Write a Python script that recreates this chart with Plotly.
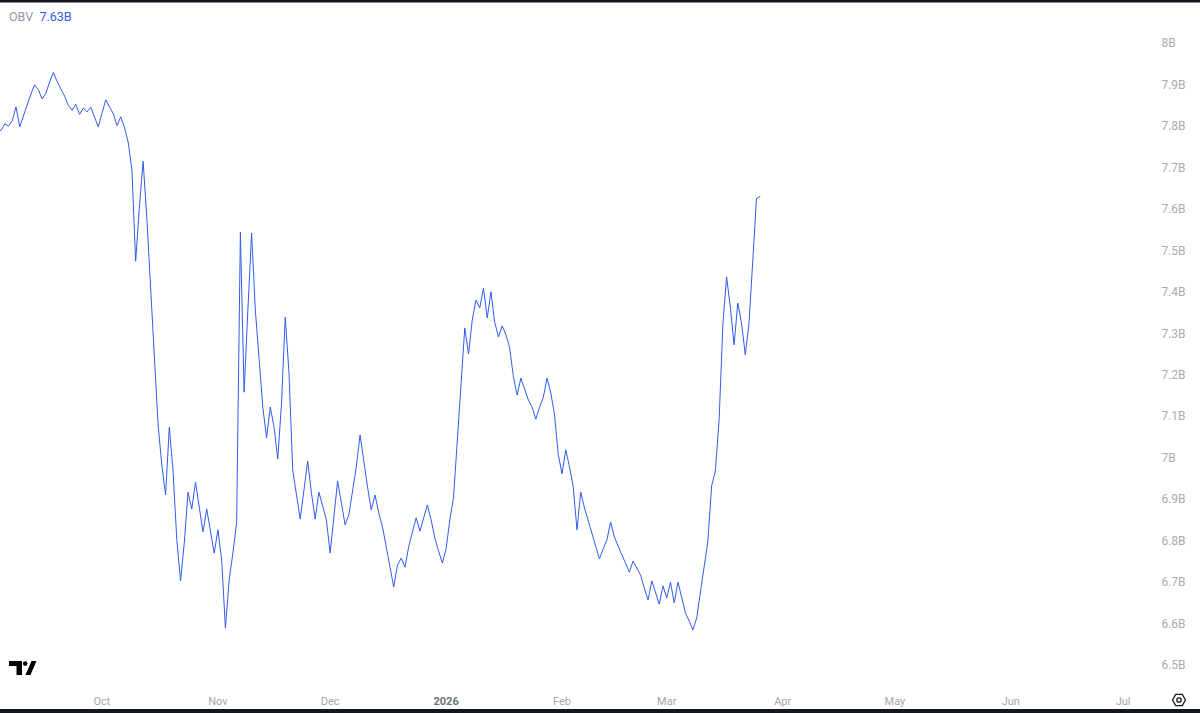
import pandas as pd
import plotly.graph_objects as go

# daily OBV values (billions), Sep 3 2025 -> Mar 26 2026
sep_obv = [7.793, 7.789, 7.805, 7.800, 7.812, 7.846, 7.798, 7.826, 7.853, 7.877,
           7.899, 7.887, 7.865, 7.879, 7.906, 7.929, 7.907, 7.891, 7.872, 7.850,
           7.838, 7.852, 7.828, 7.843, 7.834, 7.845, 7.822, 7.798]
oct_obv = [7.831, 7.863, 7.846, 7.830, 7.801, 7.822, 7.797, 7.761, 7.694, 7.474,
           7.605, 7.715, 7.576, 7.412, 7.216, 7.079, 6.982, 6.910, 7.074, 6.968,
           6.802, 6.703, 6.794, 6.917, 6.876, 6.941, 6.881, 6.821, 6.876, 6.823,
           6.770]
nov_obv = [6.826, 6.753, 6.589, 6.705, 6.770, 6.843, 7.544, 7.158, 7.356, 7.542,
           7.356, 7.236, 7.122, 7.048, 7.122, 7.074, 6.997, 7.132, 7.339, 7.204,
           6.970, 6.910, 6.852, 6.922, 6.992, 6.915, 6.852, 6.917, 6.886, 6.850]
dec_obv = [6.770, 6.857, 6.944, 6.891, 6.838, 6.862, 6.922, 6.978, 7.055, 6.987,
           6.929, 6.874, 6.910, 6.867, 6.833, 6.785, 6.736, 6.688, 6.741, 6.758,
           6.736, 6.785, 6.821, 6.855, 6.823, 6.857, 6.886, 6.850, 6.806, 6.775,
           6.746]
jan_obv = [6.780, 6.850, 6.905, 7.043, 7.180, 7.313, 7.250, 7.332, 7.380, 7.361,
           7.409, 7.337, 7.400, 7.327, 7.291, 7.318, 7.296, 7.265, 7.195, 7.151,
           7.192, 7.163, 7.139, 7.122, 7.093, 7.122, 7.146, 7.192, 7.156, 7.103,
           7.007]
feb_obv = [6.961, 7.019, 6.978, 6.929, 6.826, 6.917, 6.879, 6.847, 6.814, 6.785,
           6.756, 6.780, 6.802, 6.845, 6.809, 6.787, 6.765, 6.744, 6.724, 6.751,
           6.734, 6.717, 6.686, 6.657, 6.703, 6.676, 6.647, 6.691]
mar_obv = [6.662, 6.700, 6.650, 6.700, 6.664, 6.626, 6.606, 6.585, 6.613, 6.676,
           6.736, 6.799, 6.932, 6.968, 7.091, 7.320, 7.436, 7.363, 7.272, 7.373,
           7.325, 7.248, 7.325, 7.489, 7.625, 7.630]

obv = sep_obv + oct_obv + nov_obv + dec_obv + jan_obv + feb_obv + mar_obv
dates = pd.date_range("2025-09-03", periods=len(obv), freq="D")

month_ticks = ["2025-10-01", "2025-11-01", "2025-12-01", "2026-01-01", "2026-02-01",
               "2026-03-01", "2026-04-01", "2026-05-01", "2026-06-01", "2026-07-01"]
month_labels = ["Oct", "Nov", "Dec", "<b><span style='color:#6b6f78'>2026</span></b>", "Feb",
                "Mar", "Apr", "May", "Jun", "Jul"]
y_ticks = [6.5, 6.6, 6.7, 6.8, 6.9, 7.0, 7.1, 7.2, 7.3, 7.4, 7.5, 7.6, 7.7, 7.8, 7.9, 8.0]
y_labels = ["6.5B", "6.6B", "6.7B", "6.8B", "6.9B", "7B", "7.1B", "7.2B", "7.3B", "7.4B",
            "7.5B", "7.6B", "7.7B", "7.8B", "7.9B", "8B"]

LINE = "#2f5bf0"
PLOT_W, PLOT_H = 1150, 686


def px(x, y):
    return x / PLOT_W, 1 - y / PLOT_H


fig = go.Figure()
fig.add_trace(go.Scatter(x=dates, y=obv, mode="lines", line=dict(color=LINE, width=1),
                         showlegend=False, hoverinfo="skip"))

shapes = []
# dark strips at top and bottom edges of the screenshot
x0, y0 = px(-10, 0)
x1, y1 = px(1210, 2.5)
shapes.append(dict(type="rect", xref="paper", yref="paper", x0=x0, x1=x1, y0=y1, y1=y0,
                   fillcolor="#131722", line=dict(width=0)))
x0, y0 = px(-10, 709)
x1, y1 = px(1210, 716)
shapes.append(dict(type="rect", xref="paper", yref="paper", x0=x0, x1=x1, y0=y1, y1=y0,
                   fillcolor="#131722", line=dict(width=0)))


def poly(points):
    parts = []
    for i, (a, b) in enumerate(points):
        u, v = px(a, b)
        parts.append(("M" if i == 0 else "L") + f"{u:.5f},{v:.5f}")
    return " ".join(parts) + " Z"


# TradingView logo
shapes.append(dict(type="path", xref="paper", yref="paper",
                   path=poly([(9, 661), (22, 661), (22, 675), (16.5, 675), (16.5, 666), (9, 666)]),
                   fillcolor="#000", line=dict(width=0)))
cx, cy = px(25.2, 663.6)
rx, ry = 2.3 / PLOT_W, 2.3 / PLOT_H
shapes.append(dict(type="circle", xref="paper", yref="paper", x0=cx - rx, x1=cx + rx,
                   y0=cy - ry, y1=cy + ry, fillcolor="#000", line=dict(width=0)))
shapes.append(dict(type="path", xref="paper", yref="paper",
                   path=poly([(31.5, 661), (36.5, 661), (30.5, 675), (25.5, 675)]),
                   fillcolor="#000", line=dict(width=0)))

# settings icon bottom-right
hexagon = [(1179 + 6.5 * c, 700 + 6.5 * s) for c, s in
           [(1, 0), (0.5, 0.866), (-0.5, 0.866), (-1, 0), (-0.5, -0.866), (0.5, -0.866)]]
shapes.append(dict(type="path", xref="paper", yref="paper", path=poly(hexagon),
                   line=dict(color="#131722", width=1.3)))
cx, cy = px(1179, 700)
rx, ry = 2.2 / PLOT_W, 2.2 / PLOT_H
shapes.append(dict(type="circle", xref="paper", yref="paper", x0=cx - rx, x1=cx + rx,
                   y0=cy - ry, y1=cy + ry, line=dict(color="#131722", width=1.3)))

lx, ly = px(7, 17)
fig.add_annotation(xref="paper", yref="paper", x=lx, y=ly, xanchor="left", yanchor="middle",
                   showarrow=False,
                   text=f"<span style='color:#9598a1'>OBV</span>  <span style='color:{LINE}'>7.63B</span>",
                   font=dict(size=12.5, family="Roboto"))

fig.update_layout(
    width=1200, height=713,
    margin=dict(l=0, r=50, t=0, b=27),
    paper_bgcolor="white", plot_bgcolor="white",
    font=dict(family="Roboto", size=11, color="#a3a6ad"),
    shapes=shapes,
    xaxis=dict(type="date", range=["2025-09-03 17:30", "2026-07-08 05:00"],
               tickvals=month_ticks, ticktext=month_labels, tickangle=0,
               showgrid=False, zeroline=False, showline=False,
               ticks="outside", ticklen=5, tickcolor="rgba(0,0,0,0)"),
    yaxis=dict(side="right", range=[6.4495, 8.1037], tickvals=y_ticks, ticktext=y_labels,
               tickfont=dict(size=12, color="#a8abb2"),
               showgrid=False, zeroline=False, showline=False,
               ticks="outside", ticklen=8, tickcolor="rgba(0,0,0,0)"),
)

# drop the browser's default body margin so the figure fills the window
fig.write_html("out.html", config={"displayModeBar": False},
               post_script="document.body.style.margin='0';document.body.style.overflow='hidden';")
